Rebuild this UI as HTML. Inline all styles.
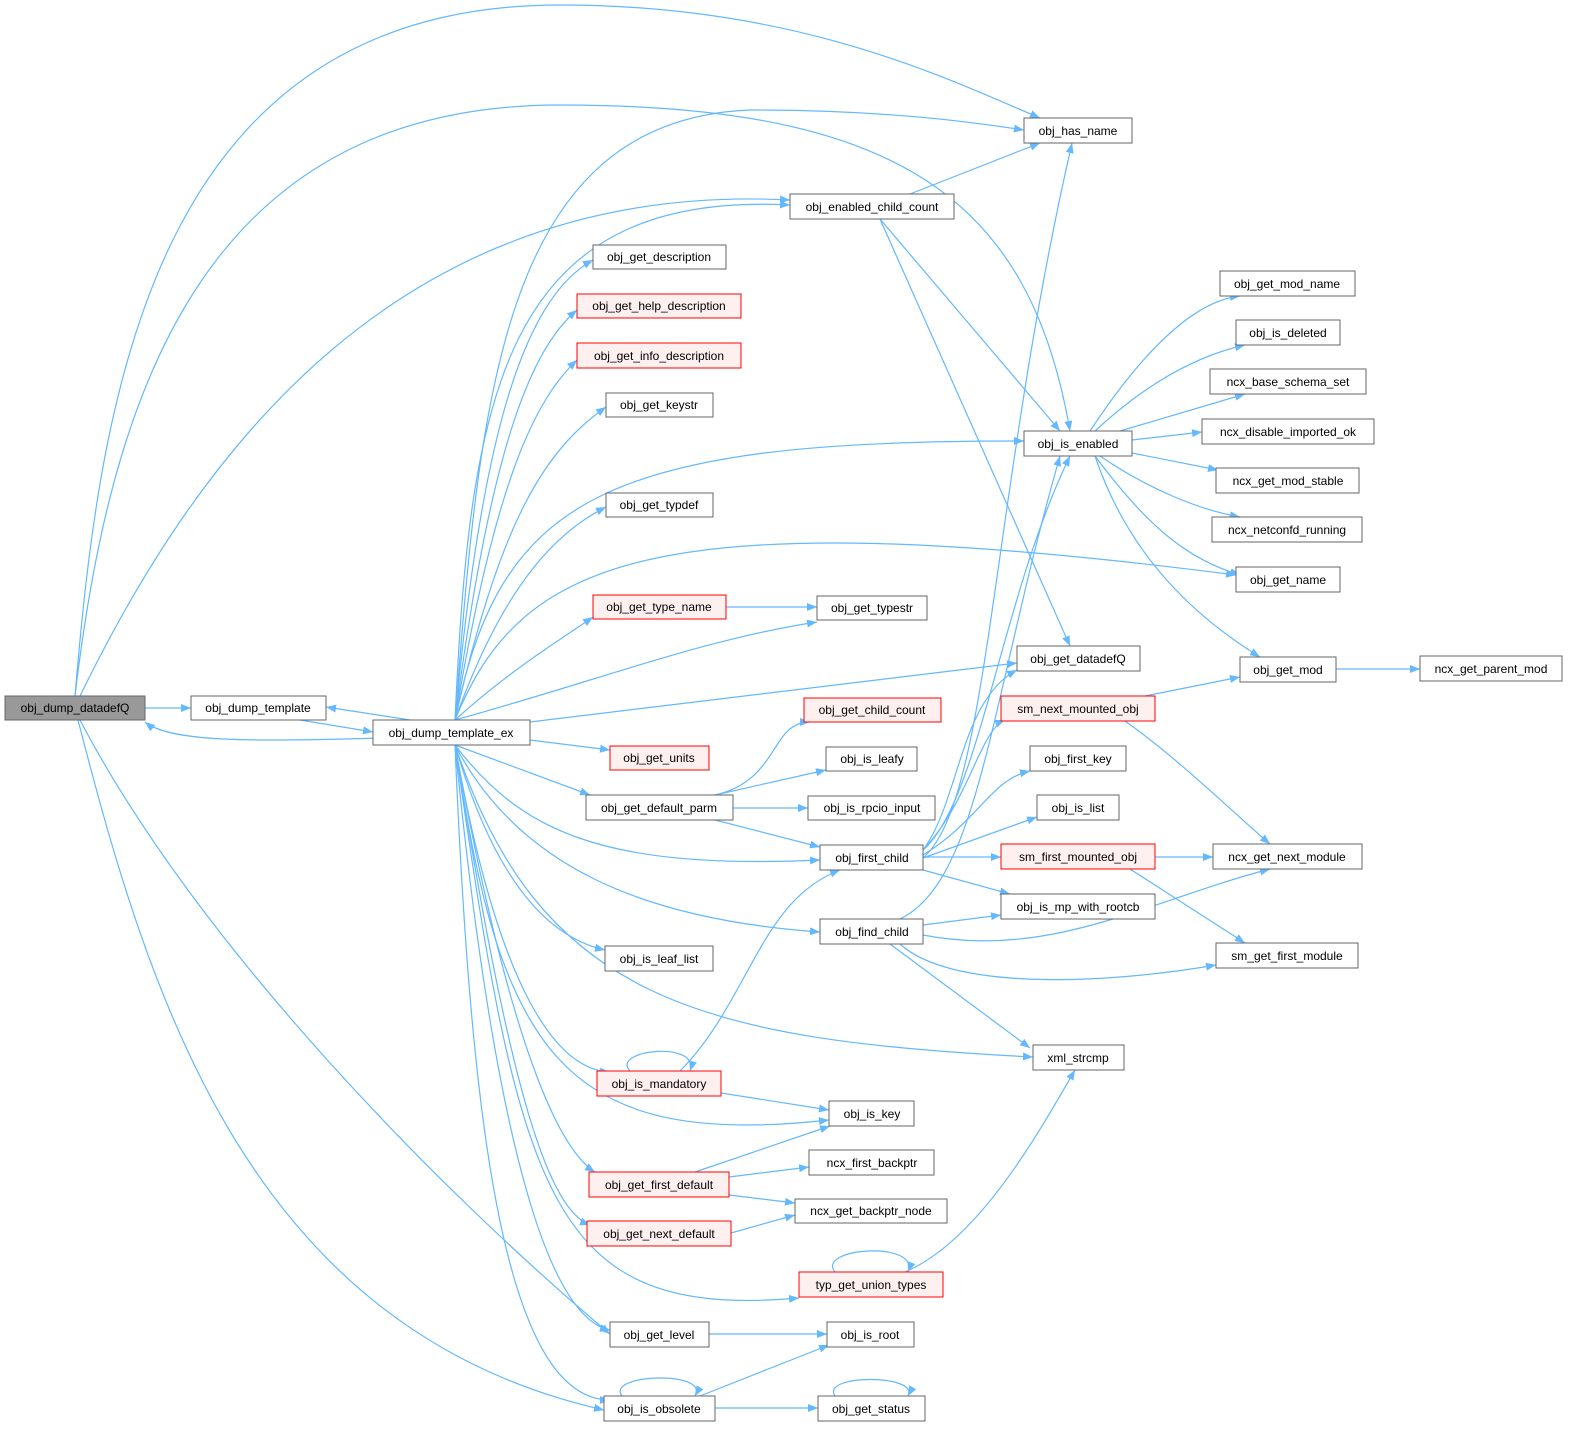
<!DOCTYPE html>
<html><head><meta charset="utf-8"><style>
body{margin:0;background:#fff}
svg{display:block}
text{font-family:"Liberation Sans",sans-serif;font-size:12px;fill:#000}
.e{fill:none;stroke:#63b8ff;stroke-width:1.2;marker-end:url(#a)}
.n{fill:#fff;stroke:#666;stroke-width:1}
.r{fill:#fff0f0;stroke:#ff0000;stroke-width:1}
</style></head><body>
<svg width="1572" height="1431" viewBox="0 0 1572 1431" xmlns="http://www.w3.org/2000/svg">
<defs><marker id="a" viewBox="0 0 10 10" refX="10" refY="5" markerWidth="10" markerHeight="10" markerUnits="userSpaceOnUse" orient="auto"><path d="M0,1 L10,5 L0,9 z" fill="#63b8ff"/></marker></defs>
<g>
<path class="e" d="M75,696 C100,400 150,5 560,5 C800,5 950,80 1040,118"/>
<path class="e" d="M75,696 C110,400 200,105 560,105 C900,105 1030,200 1070,431"/>
<path class="e" d="M80,696 C200,450 400,180 790,200"/>
<path class="e" d="M145,708 L191,708"/>
<path class="e" d="M80,720 C200,950 450,1200 610,1334"/>
<path class="e" d="M78,720 C150,1000 250,1330 604,1410"/>
<path class="e" d="M300,720 L373,732"/>
<path class="e" d="M410,720 L326,707"/>
<path class="e" d="M380,738 C250,742 170,742 145,722"/>
<path class="e" d="M455,720 C480,400 500,120 750,110 C900,110 990,125 1024,130"/>
<path class="e" d="M455,720 C470,400 500,190 790,205"/>
<path class="e" d="M455,720 C480,450 520,300 593,260"/>
<path class="e" d="M455,720 C490,450 530,350 577,310"/>
<path class="e" d="M455,720 C495,480 535,400 577,360"/>
<path class="e" d="M455,720 C500,520 545,450 606,407"/>
<path class="e" d="M455,720 C500,500 600,440 1024,441"/>
<path class="e" d="M455,720 C505,580 560,530 606,507"/>
<path class="e" d="M455,720 C520,560 650,500 1236,575"/>
<path class="e" d="M455,720 C510,670 560,640 593,617"/>
<path class="e" d="M455,720 C600,680 700,640 817,622"/>
<path class="e" d="M530,722 L1017,663"/>
<path class="e" d="M530,740 L610,750"/>
<path class="e" d="M455,745 L590,795"/>
<path class="e" d="M455,745 C520,830 600,870 820,860"/>
<path class="e" d="M455,745 C520,870 650,920 820,932"/>
<path class="e" d="M455,745 C500,900 560,940 605,950"/>
<path class="e" d="M455,745 C540,1000 700,1040 1033,1057"/>
<path class="e" d="M455,745 C500,1000 560,1070 610,1072"/>
<path class="e" d="M455,745 C500,1050 560,1150 829,1120"/>
<path class="e" d="M455,745 C510,1050 560,1150 595,1172"/>
<path class="e" d="M455,745 C510,1100 550,1210 590,1225"/>
<path class="e" d="M455,745 C520,1200 550,1320 799,1298"/>
<path class="e" d="M455,745 C500,1200 560,1320 610,1330"/>
<path class="e" d="M455,745 C470,1100 500,1400 610,1400"/>
<path class="e" d="M726,607 L817,607"/>
<path class="e" d="M715,795 C780,780 770,722 810,722"/>
<path class="e" d="M715,795 L826,770"/>
<path class="e" d="M733,808 L808,808"/>
<path class="e" d="M715,820 L820,847"/>
<path class="e" d="M910,194 L1040,143"/>
<path class="e" d="M880,219 L1060,431"/>
<path class="e" d="M880,219 L1070,646"/>
<path class="e" d="M1090,431 C1150,340 1200,300 1240,296"/>
<path class="e" d="M1095,431 C1150,380 1200,355 1245,345"/>
<path class="e" d="M1120,431 L1245,394"/>
<path class="e" d="M1132,440 L1202,432"/>
<path class="e" d="M1132,453 L1218,470"/>
<path class="e" d="M1100,456 C1150,490 1200,510 1240,517"/>
<path class="e" d="M1095,456 C1150,530 1190,560 1240,575"/>
<path class="e" d="M1095,456 C1130,560 1200,620 1260,657"/>
<path class="e" d="M1336,669 L1420,669"/>
<path class="e" d="M1145,696 L1240,677"/>
<path class="e" d="M1125,721 C1180,760 1230,810 1270,844"/>
<path class="e" d="M923,858 C990,800 990,500 1072,143"/>
<path class="e" d="M923,850 C980,800 1000,600 1070,456"/>
<path class="e" d="M923,850 C960,800 960,700 1017,670"/>
<path class="e" d="M923,850 C970,800 980,730 1005,720"/>
<path class="e" d="M923,855 C980,820 990,780 1030,771"/>
<path class="e" d="M923,858 L1037,817"/>
<path class="e" d="M923,857 L1001,857"/>
<path class="e" d="M923,870 L1010,894"/>
<path class="e" d="M1155,857 L1213,857"/>
<path class="e" d="M1130,869 L1245,943"/>
<path class="e" d="M900,919 C980,880 990,700 1060,456"/>
<path class="e" d="M923,925 L1001,915"/>
<path class="e" d="M923,935 C1050,960 1150,900 1270,869"/>
<path class="e" d="M900,944 C950,990 1100,985 1216,965"/>
<path class="e" d="M890,944 L1030,1048"/>
<path class="e" d="M630,1071 C610,1050 700,1040 690,1071"/>
<path class="e" d="M680,1071 C750,1000 760,900 840,870"/>
<path class="e" d="M721,1093 L829,1110"/>
<path class="e" d="M695,1172 L830,1126"/>
<path class="e" d="M729,1177 L809,1167"/>
<path class="e" d="M729,1195 L795,1203"/>
<path class="e" d="M731,1233 L795,1215"/>
<path class="e" d="M835,1272 C815,1248 920,1240 908,1272"/>
<path class="e" d="M905,1272 C980,1240 1040,1130 1075,1070"/>
<path class="e" d="M709,1334 L827,1334"/>
<path class="e" d="M622,1396 C605,1374 710,1370 695,1396"/>
<path class="e" d="M700,1396 L829,1345"/>
<path class="e" d="M715,1408 L818,1408"/>
<path class="e" d="M835,1396 C820,1374 920,1374 908,1396"/>
</g>
<g>
<rect x="5" y="696" width="140" height="24" fill="#999" stroke="#666"/><text x="75" y="712" text-anchor="middle">obj_dump_datadefQ</text>
<rect class="n" x="191" y="696" width="135" height="24"/><text x="258" y="712" text-anchor="middle">obj_dump_template</text>
<rect class="n" x="373" y="720" width="157" height="25"/><text x="451" y="737" text-anchor="middle">obj_dump_template_ex</text>
<rect class="n" x="1024" y="118" width="108" height="25"/><text x="1078" y="135" text-anchor="middle">obj_has_name</text>
<rect class="n" x="790" y="194" width="164" height="25"/><text x="872" y="211" text-anchor="middle">obj_enabled_child_count</text>
<rect class="n" x="593" y="245" width="133" height="24"/><text x="659" y="261" text-anchor="middle">obj_get_description</text>
<rect class="r" x="577" y="294" width="164" height="24"/><text x="659" y="310" text-anchor="middle">obj_get_help_description</text>
<rect class="r" x="577" y="343" width="164" height="25"/><text x="659" y="360" text-anchor="middle">obj_get_info_description</text>
<rect class="n" x="606" y="393" width="107" height="24"/><text x="659" y="409" text-anchor="middle">obj_get_keystr</text>
<rect class="n" x="1024" y="431" width="108" height="25"/><text x="1078" y="448" text-anchor="middle">obj_is_enabled</text>
<rect class="n" x="606" y="493" width="107" height="24"/><text x="659" y="509" text-anchor="middle">obj_get_typdef</text>
<rect class="r" x="593" y="595" width="133" height="24"/><text x="659" y="611" text-anchor="middle">obj_get_type_name</text>
<rect class="n" x="817" y="596" width="110" height="24"/><text x="872" y="612" text-anchor="middle">obj_get_typestr</text>
<rect class="n" x="1017" y="646" width="123" height="25"/><text x="1078" y="663" text-anchor="middle">obj_get_datadefQ</text>
<rect class="r" x="804" y="698" width="137" height="24"/><text x="872" y="714" text-anchor="middle">obj_get_child_count</text>
<rect class="r" x="610" y="746" width="99" height="24"/><text x="659" y="762" text-anchor="middle">obj_get_units</text>
<rect class="n" x="826" y="747" width="91" height="24"/><text x="872" y="763" text-anchor="middle">obj_is_leafy</text>
<rect class="n" x="586" y="795" width="147" height="25"/><text x="659" y="812" text-anchor="middle">obj_get_default_parm</text>
<rect class="n" x="808" y="796" width="127" height="24"/><text x="872" y="812" text-anchor="middle">obj_is_rpcio_input</text>
<rect class="n" x="820" y="845" width="103" height="25"/><text x="872" y="862" text-anchor="middle">obj_first_child</text>
<rect class="n" x="820" y="919" width="103" height="25"/><text x="872" y="936" text-anchor="middle">obj_find_child</text>
<rect class="n" x="605" y="946" width="108" height="25"/><text x="659" y="963" text-anchor="middle">obj_is_leaf_list</text>
<rect class="r" x="597" y="1071" width="124" height="25"/><text x="659" y="1088" text-anchor="middle">obj_is_mandatory</text>
<rect class="n" x="829" y="1101" width="85" height="25"/><text x="872" y="1118" text-anchor="middle">obj_is_key</text>
<rect class="r" x="589" y="1172" width="140" height="25"/><text x="659" y="1189" text-anchor="middle">obj_get_first_default</text>
<rect class="n" x="809" y="1150" width="125" height="25"/><text x="872" y="1167" text-anchor="middle">ncx_first_backptr</text>
<rect class="n" x="795" y="1199" width="152" height="24"/><text x="871" y="1215" text-anchor="middle">ncx_get_backptr_node</text>
<rect class="r" x="587" y="1221" width="144" height="25"/><text x="659" y="1238" text-anchor="middle">obj_get_next_default</text>
<rect class="r" x="799" y="1272" width="144" height="25"/><text x="871" y="1289" text-anchor="middle">typ_get_union_types</text>
<rect class="n" x="610" y="1322" width="99" height="25"/><text x="659" y="1339" text-anchor="middle">obj_get_level</text>
<rect class="n" x="827" y="1322" width="87" height="25"/><text x="870" y="1339" text-anchor="middle">obj_is_root</text>
<rect class="n" x="604" y="1396" width="111" height="25"/><text x="659" y="1413" text-anchor="middle">obj_is_obsolete</text>
<rect class="n" x="818" y="1396" width="107" height="25"/><text x="871" y="1413" text-anchor="middle">obj_get_status</text>
<rect class="n" x="1033" y="1045" width="91" height="25"/><text x="1078" y="1062" text-anchor="middle">xml_strcmp</text>
<rect class="n" x="1220" y="271" width="135" height="25"/><text x="1287" y="288" text-anchor="middle">obj_get_mod_name</text>
<rect class="n" x="1236" y="320" width="104" height="25"/><text x="1288" y="337" text-anchor="middle">obj_is_deleted</text>
<rect class="n" x="1210" y="369" width="156" height="25"/><text x="1288" y="386" text-anchor="middle">ncx_base_schema_set</text>
<rect class="n" x="1202" y="419" width="172" height="25"/><text x="1288" y="436" text-anchor="middle">ncx_disable_imported_ok</text>
<rect class="n" x="1216" y="468" width="143" height="25"/><text x="1288" y="485" text-anchor="middle">ncx_get_mod_stable</text>
<rect class="n" x="1212" y="517" width="150" height="25"/><text x="1287" y="534" text-anchor="middle">ncx_netconfd_running</text>
<rect class="n" x="1236" y="567" width="104" height="25"/><text x="1288" y="584" text-anchor="middle">obj_get_name</text>
<rect class="n" x="1240" y="657" width="96" height="25"/><text x="1288" y="674" text-anchor="middle">obj_get_mod</text>
<rect class="n" x="1420" y="656" width="142" height="25"/><text x="1491" y="673" text-anchor="middle">ncx_get_parent_mod</text>
<rect class="r" x="1001" y="696" width="154" height="25"/><text x="1078" y="713" text-anchor="middle">sm_next_mounted_obj</text>
<rect class="n" x="1030" y="746" width="96" height="25"/><text x="1078" y="763" text-anchor="middle">obj_first_key</text>
<rect class="n" x="1037" y="795" width="82" height="25"/><text x="1078" y="812" text-anchor="middle">obj_is_list</text>
<rect class="r" x="1001" y="844" width="154" height="25"/><text x="1078" y="861" text-anchor="middle">sm_first_mounted_obj</text>
<rect class="n" x="1213" y="844" width="149" height="25"/><text x="1287" y="861" text-anchor="middle">ncx_get_next_module</text>
<rect class="n" x="1001" y="894" width="154" height="25"/><text x="1078" y="911" text-anchor="middle">obj_is_mp_with_rootcb</text>
<rect class="n" x="1216" y="943" width="142" height="25"/><text x="1287" y="960" text-anchor="middle">sm_get_first_module</text>
</g>
</svg>
</body></html>
